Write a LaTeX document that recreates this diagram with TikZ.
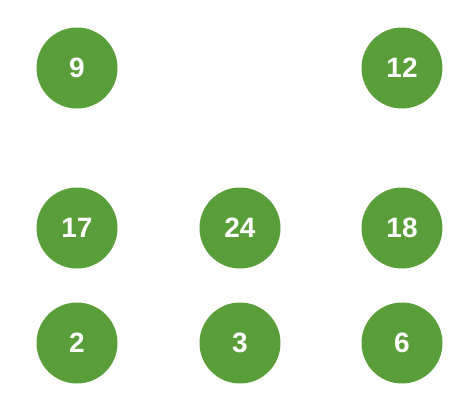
\documentclass[tikz,border=0pt]{standalone}
\usepackage{fontspec}
\setmainfont{Liberation Sans}
\definecolor{ballgreen}{RGB}{90,158,58}
\begin{document}
\begin{tikzpicture}[x=1pt,y=-1pt,
  ball/.style={circle,fill=ballgreen,minimum size=81pt,inner sep=0pt,text=white,font=\fontsize{28}{28}\selectfont\bfseries}]
\useasboundingbox (0,0) rectangle (457,400);
\node[ball] (n9)  at (77,68) {9};
\node[ball] (n12) at (402,68) {12};
\node[ball] (n17) at (77,228) {17};
\node[ball] (n24) at (240,228) {24};
\node[ball] (n18) at (402,228) {18};
\node[ball] (n2)  at (77,343) {2};
\node[ball] (n3)  at (240,343) {3};
\node[ball] (n6)  at (402,343) {6};
\end{tikzpicture}
\end{document}
